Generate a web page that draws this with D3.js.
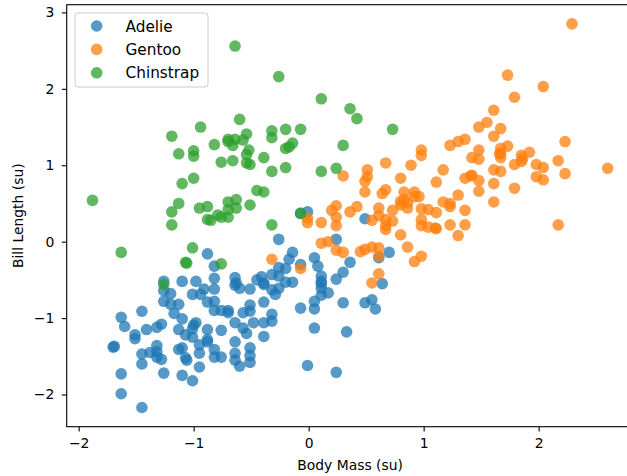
<!DOCTYPE html>
<html>
<head>
<meta charset="utf-8">
<script src="https://cdn.jsdelivr.net/npm/d3@7"></script>
<style>
  body { margin: 0; background: #fff; }
  svg { display: block; font-family: "DejaVu Sans", sans-serif; }
</style>
</head>
<body>
<svg width="627" height="476"></svg>
<script>
// standardized body mass (x) and bill length (y)
const adelie = [
  [-0.88,-0.16],[-0.82,-0.32],[-0.82,-0.48],[-0.64,-0.47],[-0.63,-0.54],[-1.26,-0.52],[-1.10,-0.52],[-0.98,-0.52],
  [-1.26,-0.64],[-1.20,-0.68],[-1.26,-0.78],[-1.20,-0.82],[-1.13,-0.82],[-1.17,-0.94],[-1.10,-1.01],[-1.01,-0.69],
  [-0.94,-0.69],[-0.91,-0.62],[-0.82,-0.62],[-0.88,-0.79],[-0.82,-0.78],[-0.82,-0.90],[-0.76,-0.90],[-0.70,-0.90],
  [-0.70,-0.93],[-0.64,-0.57],[-0.60,-0.61],[-0.51,-0.62],[-0.57,-0.93],[-0.51,-0.83],[-0.51,-0.91],[-0.64,-1.06],
  [-0.57,-1.13],[-0.54,-1.20],[-0.64,-1.31],[-0.64,-1.46],[-0.64,-1.55],[-0.60,-1.63],[-0.51,-1.39],[-0.51,-1.49],
  [-0.51,-1.58],[-0.76,-1.16],[-0.76,-1.51],[-0.82,-1.41],[-0.82,-1.51],[-0.88,-1.15],[-0.88,-1.28],[-0.95,-1.35],
  [-0.95,-1.46],[-0.95,-1.64],[-0.88,-1.31],[-1.00,-1.09],[-0.98,-1.06],[-1.01,-1.14],[-1.07,-1.22],[-1.01,-1.25],
  [-1.13,-1.15],[-1.13,-1.41],[-1.10,-1.39],[-1.07,-1.52],[-1.06,-1.55],[-1.10,-1.75],[-1.01,-1.82],[-1.26,-1.72],
  [-1.32,-1.36],[-1.32,-1.44],[-1.32,-1.51],[-1.28,-1.54],[-1.38,-1.45],[-1.45,-1.47],[-1.45,-1.60],[-1.45,-2.17],
  [-1.63,-1.73],[-1.63,-1.99],[-1.69,-1.37],[-1.70,-1.38],[-1.51,-1.22],[-1.51,-1.27],[-1.41,-1.15],[-1.32,-1.12],
  [-1.28,-1.08],[-1.63,-0.99],[-1.60,-1.11],[-1.45,-0.91],[-0.39,-0.56],[-0.32,-0.63],[-0.29,-0.69],[-0.26,-0.61],
  [-0.20,-0.53],[-0.14,-0.53],[-0.39,-0.79],[-0.48,-1.06],[-0.39,-1.06],[-0.32,-0.95],[-0.32,-1.04],[-0.39,-1.24],
  [-0.07,-0.87],[0.05,-0.78],[0.05,-0.88],[0.11,-0.55],[0.11,-0.61],[0.11,-0.70],[0.17,-0.67],[0.30,-0.80],
  [0.05,-1.13],[0.33,-1.18],[-0.01,-1.62],[0.24,-1.71],[0.49,-0.80],[0.55,-0.76],[0.58,-0.88],[0.64,-0.55],
  [-0.07,0.37],[-0.01,0.39],[0.49,0.30],[-0.26,0.03],[0.24,0.03],[-0.14,-0.14],[-0.17,-0.23],[-0.20,-0.35],
  [-0.26,-0.34],[-0.32,-0.43],[-0.26,-0.45],[-0.41,-0.46],[-0.39,-0.54],[0.05,-0.21],[0.08,-0.32],[0.11,-0.45],
  [0.11,-0.52],[0.24,-0.49],[0.30,-0.40],[0.36,-0.27],[-0.07,-0.30],[0.70,-0.14],[0.61,-0.21],[-0.45,-0.50]
];

const gentoo = [
  [2.29,2.85],[1.73,2.18],[2.04,2.03],[1.79,1.89],[1.61,1.72],[1.55,1.56],[1.48,1.50],[1.67,1.48],
  [1.61,1.38],[1.36,1.34],[1.30,1.31],[1.23,1.26],[2.23,1.31],[1.67,1.22],[1.73,1.25],[1.67,1.16],
  [1.66,1.15],[1.67,1.10],[1.48,1.20],[1.42,1.10],[1.48,1.08],[1.85,1.13],[1.85,1.05],[1.86,1.09],
  [1.79,1.01],[1.92,1.17],[1.98,1.01],[2.04,0.97],[2.17,1.06],[2.23,0.89],[2.60,0.96],[1.98,0.85],
  [2.04,0.81],[1.61,0.94],[1.67,0.92],[1.17,0.94],[1.11,0.78],[1.36,0.83],[1.42,0.87],[1.41,0.86],
  [1.48,0.80],[1.48,0.66],[1.61,0.76],[1.79,0.70],[1.61,0.52],[1.30,0.61],[1.17,0.52],[1.23,0.50],
  [1.23,0.46],[1.36,0.41],[1.11,0.38],[1.23,0.22],[1.36,0.22],[1.11,0.17],[1.30,0.08],[2.17,0.22],
  [0.98,1.20],[0.98,1.13],[0.67,1.03],[0.89,1.00],[0.51,0.94],[0.30,0.86],[0.51,0.85],[0.49,0.79],
  [0.80,0.83],[0.49,0.65],[0.67,0.68],[0.64,0.63],[0.83,0.65],[0.92,0.65],[0.80,0.53],[0.83,0.55],
  [0.86,0.51],[0.80,0.48],[0.92,0.59],[0.96,0.59],[0.86,0.44],[0.73,0.41],[0.61,0.44],[0.42,0.46],
  [0.36,0.39],[0.24,0.47],[0.20,0.41],[0.24,0.32],[0.24,0.21],[-0.01,0.31],[-0.01,0.25],[0.11,0.25],
  [0.61,0.34],[0.67,0.29],[0.67,0.21],[0.67,0.16],[0.73,0.27],[0.55,0.28],[0.80,0.09],[0.86,-0.07],
  [0.98,0.29],[0.98,0.21],[1.04,0.19],[1.10,0.18],[0.98,0.43],[1.04,0.42],[0.11,-0.02],[0.17,0.00],
  [0.24,-0.11],[0.30,-0.14],[0.45,-0.13],[0.49,-0.10],[0.55,-0.07],[0.61,-0.08],[0.61,-0.19],[0.92,-0.26],
  [0.98,-0.19],[0.61,-0.42],[0.55,-0.54],[-0.32,-0.23],[-0.07,-0.35]
];

const chinstrap = [
  [-0.64,2.56],[-0.26,2.16],[0.11,1.87],[0.36,1.74],[0.42,1.61],[0.73,1.47],[-0.60,1.60],[-0.94,1.50],
  [-1.19,1.38],[-0.82,1.27],[-0.70,1.34],[-0.64,1.34],[-0.54,1.41],[-0.32,1.45],[-0.32,1.36],[-0.20,1.47],
  [-0.07,1.47],[-0.14,1.29],[-0.20,1.22],[-0.17,1.24],[0.30,1.26],[-1.13,1.15],[-1.00,1.19],[-1.00,1.12],
  [-0.70,1.31],[-0.66,1.26],[-0.57,1.33],[-0.52,1.20],[-0.54,1.14],[-0.76,1.04],[-0.66,1.06],[-0.54,1.03],
  [-0.51,1.01],[-0.39,1.10],[-0.20,0.97],[-0.32,0.92],[0.11,0.92],[0.24,0.96],[-1.00,0.83],[-1.10,0.76],
  [-1.88,0.54],[-1.13,0.50],[-1.19,0.39],[-1.19,0.22],[-0.95,0.44],[-0.88,0.46],[-0.88,0.29],[-0.85,0.28],
  [-0.79,0.35],[-0.76,0.32],[-0.70,0.52],[-0.63,0.55],[-0.70,0.42],[-0.63,0.44],[-0.70,0.32],[-0.51,0.48],
  [-0.45,0.67],[-0.39,0.65],[-0.07,0.37],[-0.32,0.22],[-1.01,-0.08],[-1.63,-0.14],[-1.07,-0.27],[-1.06,-0.28],
  [-0.76,-0.29],[-1.26,-0.56]
];

const speciesNames = ['Adelie', 'Gentoo', 'Chinstrap'];
const speciesColors = ['#1f77b4', '#ff7f0e', '#2ca02c'];
const xTicks = [-2, -1, 0, 1, 2];
const yTicks = [-2, -1, 0, 1, 2, 3];

const svg = d3.select('svg');
const marginLeft = 66.7, marginTop = 4.7, innerWidth = 566.7, innerHeight = 422;
const groups = [adelie, gentoo, chinstrap];
const all = groups.flat();

// matplotlib style 5% margin around the data
const pad = ext => { const r = ext[1] - ext[0]; return [ext[0] - r * 0.05, ext[1] + r * 0.05]; };

const xScale = d3.scaleLinear()
  .domain(pad(d3.extent(all, d => d[0])))
  .range([0, innerWidth]);

const yScale = d3.scaleLinear()
  .domain(pad(d3.extent(all, d => d[1])))
  .range([innerHeight, 0]);

const g = svg.append('g').attr('transform', `translate(${marginLeft},${marginTop})`);

const fmt = d => d < 0 ? '\u2212' + Math.abs(d) : '' + d;

const xAxisG = g.append('g')
  .attr('transform', `translate(0,${innerHeight})`)
  .call(d3.axisBottom(xScale).tickValues(xTicks).tickFormat(fmt).tickSize(4.9).tickPadding(7));
const yAxisG = g.append('g')
  .call(d3.axisLeft(yScale).tickValues(yTicks).tickFormat(fmt).tickSize(4.9).tickPadding(7.5));

[xAxisG, yAxisG].forEach(a => {
  a.select('.domain').remove();
  a.selectAll('text').attr('font-size', 13.9).attr('font-family', 'DejaVu Sans').attr('fill', '#000');
  a.selectAll('line').attr('stroke', '#000').attr('stroke-width', 1.1);
});

// points, drawn species by species
groups.forEach((data, i) => {
  g.append('g').selectAll('circle').data(data)
    .enter().append('circle')
      .attr('cx', d => xScale(d[0]))
      .attr('cy', d => yScale(d[1]))
      .attr('r', 5.8)
      .attr('fill', speciesColors[i])
      .attr('fill-opacity', 0.75);
});

// frame (right side falls outside the picture)
g.append('rect')
  .attr('width', innerWidth).attr('height', innerHeight)
  .attr('fill', 'none').attr('stroke', '#000').attr('stroke-width', 1.1);

svg.append('text')
  .attr('x', marginLeft + innerWidth / 2).attr('y', 470)
  .attr('text-anchor', 'middle').attr('font-size', 13.9)
  .text('Body Mass (su)');

svg.append('text')
  .attr('transform', `translate(22.5,${marginTop + innerHeight / 2}) rotate(-90)`)
  .attr('text-anchor', 'middle').attr('font-size', 13.9)
  .text('Bill Length (su)');

// legend
const legend = svg.append('g').attr('transform', 'translate(75,13)');
legend.append('rect')
  .attr('width', 133).attr('height', 74).attr('rx', 3)
  .attr('fill', '#fff').attr('fill-opacity', 0.8)
  .attr('stroke', '#cccccc').attr('stroke-width', 1);

const items = legend.selectAll('g.item').data(speciesNames)
  .enter().append('g')
    .attr('transform', (d, i) => `translate(0,${13 + i * 23.4})`);
items.append('circle')
  .attr('cx', 21.7).attr('r', 5.8)
  .attr('fill', (d, i) => speciesColors[i]).attr('fill-opacity', 0.75);
items.append('text')
  .attr('x', 50.5).attr('dy', '0.36em')
  .attr('font-size', 15.3)
  .text(d => d);
</script>
</body>
</html>
